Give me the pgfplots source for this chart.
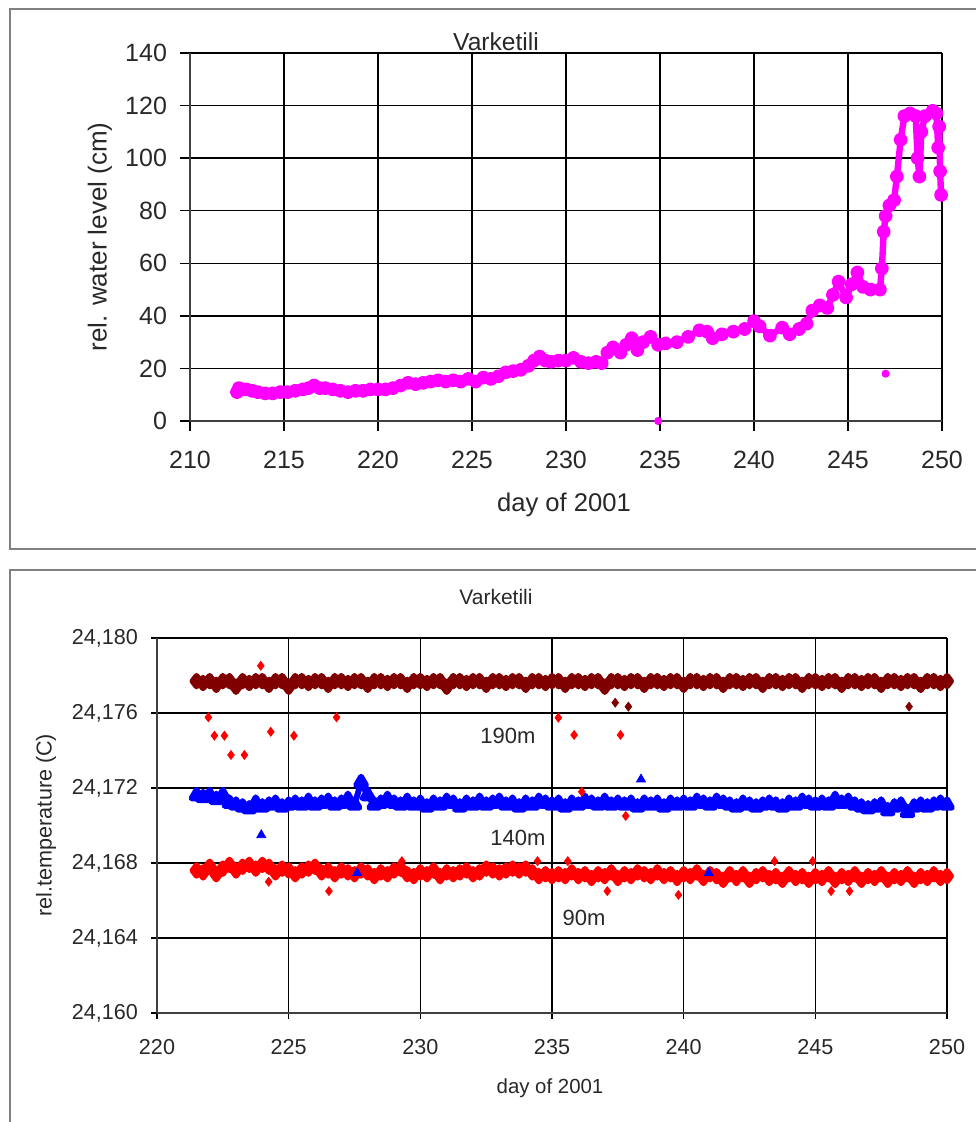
\documentclass[border=0pt]{standalone}
\usepackage{fontspec}
\setmainfont{Liberation Sans}
\usepackage{pgfplots}
\pgfplotsset{compat=1.18}
\usepackage{pgfplotstable}
\definecolor{mag}{RGB}{255,0,255}
\definecolor{dred}{RGB}{128,0,0}
\definecolor{pblue}{RGB}{0,0,255}
\definecolor{pred}{RGB}{255,0,0}
\definecolor{framegray}{RGB}{128,128,128}
\definecolor{txt}{RGB}{40,40,40}

% water level (cm) vs day of 2001
\pgfplotstableread{
day level
212.5 11
212.6 12.5
212.8 12
213.0 12
213.3 11.5
213.6 11
214.0 10.5
214.4 10.5
214.8 11
215.2 11
215.6 11.5
216.0 12
216.3 12.5
216.6 13.5
216.9 12.5
217.2 12.5
217.6 12
218.0 11.5
218.4 11
218.8 11.5
219.2 11.5
219.6 12
220.0 12
220.4 12
220.8 12.5
221.2 13.5
221.6 14.5
222.0 14
222.4 14.5
222.8 15
223.2 15.5
223.6 15
224.0 15.5
224.4 15
224.8 16
225.2 15
225.6 16.5
226.0 16
226.4 17
226.8 18.5
227.2 19
227.6 19.5
228.0 21
228.3 23
228.6 24.5
228.9 23
229.2 22.5
229.6 23
230.0 23
230.4 24
230.8 22.5
231.2 22
231.6 22.5
231.9 22
232.2 26
232.5 28
232.9 26
233.2 29
233.5 31.5
233.8 27
234.1 30
234.5 32
234.9 29
235.3 29.5
235.9 30
236.5 32
237.1 34.5
237.5 34
237.8 31.5
238.3 33
238.9 34
239.5 35
240.0 38
240.3 36
240.85 32.5
241.5 35.5
241.9 33
242.4 35
242.8 37
243.1 42
243.5 44
243.9 43
244.2 48
244.5 53
244.9 47
245.2 52
245.5 56.5
245.8 51
246.2 50
246.7 50
246.8 58
246.9 72
247.0 78
247.2 82
247.45 84
247.6 93
247.8 107
248.0 116
248.3 117
248.6 116
248.7 100
248.8 93
248.9 110
249.1 116
249.5 118
249.7 117
249.8 104
249.85 112
249.9 95
249.95 86
}\levels

\pgfplotstableread{
day level
234.9 0
247.0 18
}\leveloutliers

% temperature, given as (T - 24.160 C) in units of 0.001 C
\pgfplotstableread{
day t190 t140 t90
221.50 17.7 11.6 7.6
221.75 17.6 11.5 7.5
222.00 17.7 11.6 7.8
222.25 17.5 11.4 7.4
222.50 17.7 11.6 7.7
222.75 17.7 11.2 7.9
223.00 17.4 11.1 7.6
223.25 17.7 11.0 7.8
223.50 17.6 10.9 7.9
223.75 17.7 11.2 7.7
224.00 17.7 11.0 7.9
224.25 17.5 11.1 7.8
224.50 17.7 11.2 7.5
224.75 17.7 11.0 7.7
225.00 17.4 11.1 7.6
225.25 17.7 11.2 7.4
225.50 17.7 11.1 7.6
225.75 17.6 11.3 7.7
226.00 17.7 11.1 7.8
226.25 17.7 11.2 7.5
226.50 17.5 11.3 7.6
226.75 17.7 11.1 7.4
227.00 17.7 11.2 7.6
227.25 17.6 11.4 7.5
227.50 17.7 11.1 7.4
227.75 17.7 12.3 7.6
228.00 17.5 11.6 7.5
228.25 17.7 11.1 7.3
228.50 17.7 11.2 7.5
228.75 17.6 11.4 7.4
229.00 17.7 11.2 7.6
229.25 17.7 11.1 7.7
229.50 17.5 11.3 7.4
229.75 17.7 11.1 7.3
230.00 17.7 11.2 7.5
230.25 17.6 11.0 7.4
230.50 17.7 11.2 7.6
230.75 17.7 11.1 7.3
231.00 17.4 11.3 7.5
231.25 17.7 11.2 7.4
231.50 17.7 11.0 7.5
231.75 17.6 11.2 7.6
232.00 17.7 11.1 7.4
232.25 17.7 11.3 7.5
232.50 17.5 11.1 7.7
232.75 17.7 11.2 7.6
233.00 17.7 11.3 7.5
233.25 17.6 11.1 7.6
233.50 17.7 11.2 7.7
233.75 17.7 11.0 7.6
234.00 17.5 11.2 7.7
234.25 17.7 11.1 7.5
234.50 17.7 11.3 7.3
234.75 17.6 11.2 7.4
235.00 17.7 11.1 7.3
235.25 17.7 11.2 7.4
235.50 17.5 11.0 7.3
235.75 17.7 11.2 7.5
236.00 17.7 11.1 7.3
236.25 17.6 11.3 7.4
236.50 17.7 11.2 7.2
236.75 17.7 11.1 7.4
237.00 17.4 11.3 7.3
237.25 17.7 11.1 7.5
237.50 17.7 11.2 7.2
237.75 17.6 11.1 7.4
238.00 17.7 11.2 7.3
238.25 17.7 11.0 7.5
238.50 17.5 11.2 7.4
238.75 17.7 11.1 7.3
239.00 17.7 11.2 7.5
239.25 17.6 11.0 7.3
239.50 17.7 11.2 7.4
239.75 17.7 11.1 7.2
240.00 17.5 11.2 7.4
240.25 17.7 11.1 7.3
240.50 17.7 11.3 7.5
240.75 17.6 11.2 7.2
241.00 17.7 11.1 7.4
241.25 17.7 11.3 7.3
241.50 17.5 11.2 7.1
241.75 17.7 11.1 7.4
242.00 17.7 11.0 7.2
242.25 17.6 11.2 7.4
242.50 17.7 11.1 7.1
242.75 17.7 11.0 7.3
243.00 17.5 11.1 7.4
243.25 17.7 11.2 7.2
243.50 17.7 11.1 7.3
243.75 17.6 11.0 7.1
244.00 17.7 11.2 7.4
244.25 17.7 11.1 7.2
244.50 17.5 11.3 7.3
244.75 17.7 11.2 7.1
245.00 17.7 11.1 7.3
245.25 17.6 11.2 7.2
245.50 17.7 11.1 7.4
245.75 17.7 11.4 7.1
246.00 17.5 11.2 7.3
246.25 17.7 11.3 7.2
246.50 17.7 11.1 7.4
246.75 17.6 11.0 7.1
247.00 17.7 10.9 7.3
247.25 17.7 11.0 7.2
247.50 17.5 11.1 7.4
247.75 17.7 10.8 7.1
248.00 17.7 11.0 7.3
248.25 17.6 11.1 7.2
248.50 17.7 10.7 7.4
248.75 17.7 11.0 7.1
249.00 17.5 11.1 7.3
249.25 17.7 11.0 7.2
249.50 17.7 11.1 7.4
249.75 17.6 11.2 7.2
250.00 17.7 11.1 7.3
}\temps

\pgfplotstableread{
day t
221.95 15.77
222.18 14.79
222.56 14.79
222.81 13.76
223.32 13.76
223.94 18.52
224.32 15.0
225.20 14.79
226.82 15.77
235.24 15.75
235.84 14.83
237.60 14.83
236.13 11.8
237.80 10.51
224.24 7.0
226.53 6.5
229.30 8.1
234.45 8.1
235.60 8.1
237.10 6.5
239.80 6.3
243.45 8.1
244.90 8.1
245.60 6.5
246.30 6.5
}\redout

\pgfplotstableread{
day t
237.40 16.55
237.90 16.34
248.56 16.34
}\dredout

\pgfplotstableread{
day t
223.96 9.49
238.38 12.46
227.60 7.47
240.95 7.47
}\blueout

\begin{document}
\begin{tikzpicture}
\useasboundingbox (0,0) rectangle (487.5pt,-561pt);
\draw[framegray, line width=1pt] (4.75pt,-4.75pt) rectangle (495pt,-274.5pt);
\draw[framegray, line width=1pt] (4.75pt,-285pt) rectangle (495pt,-575pt);

% ---------- top panel ----------
\begin{axis}[
  at={(95pt,-210.5pt)}, anchor=south west,
  scale only axis, width=376pt, height=184pt,
  xmin=210, xmax=250, ymin=0, ymax=140,
  xtick={210,215,...,250}, ytick={0,20,...,140},
  grid=major, major grid style={black, line width=0.7pt},
  axis x line*=bottom, axis y line*=left,
  axis line style={black!75, line width=0.8pt},
  tick style={black, line width=0.7pt},
  tick align=outside, major tick length=5pt,
  ticklabel style={font=\fontsize{12.5}{14}\selectfont, text=txt},
  xticklabel style={yshift=-6.5pt},
  yticklabel style={xshift=-3pt},
  /pgf/number format/assume math mode=true,
  clip=false,
]
\addplot[mag, line width=3.2pt, line join=round, line cap=round,
  mark=*, mark size=1.9pt] table[x=day, y=level] {\levels};
\addplot[mag, only marks, mark=*, mark size=1.8pt] table[x=day, y=level] {\leveloutliers};
\end{axis}
\node[text=txt, font=\fontsize{12.3}{14}\selectfont] at (248pt,-21pt) {Varketili};
\node[text=txt, font=\fontsize{13}{15}\selectfont, rotate=90] at (50pt,-118.5pt) {rel. water level (cm)};
\node[text=txt, font=\fontsize{12.8}{15}\selectfont] at (282pt,-252.5pt) {day of 2001};

% ---------- bottom panel ----------
\begin{axis}[
  at={(78.5pt,-506.5pt)}, anchor=south west,
  scale only axis, width=395pt, height=187.5pt,
  xmin=220, xmax=250, ymin=0, ymax=20,
  xtick={220,225,...,250}, ytick={0,4,...,20},
  yticklabels={{24,160},{24,164},{24,168},{24,172},{24,176},{24,180}},
  grid=major, major grid style={black, line width=0.7pt},
  axis x line*=bottom, axis y line*=left,
  axis line style={black!75, line width=0.8pt},
  tick style={black, line width=0.7pt},
  tick align=outside, major tick length=3pt,
  ticklabel style={font=\fontsize{10.8}{12}\selectfont, text=txt},
  xticklabel style={yshift=-6.5pt},
  yticklabel style={xshift=-3pt},
  /pgf/number format/assume math mode=true,
  clip=false,
]
\addplot[dred, line width=3pt, line join=round,
  mark=diamond*, mark size=2.6pt] table[x=day, y=t190] {\temps};
\addplot[pred, line width=3pt, line join=round,
  mark=diamond*, mark size=2.6pt] table[x=day, y=t90] {\temps};
\addplot[pblue, line width=3pt, line join=round,
  mark=triangle*, mark size=2.8pt] table[x=day, y=t140] {\temps};
\addplot[pred, only marks, mark=diamond*, mark size=2.2pt] table[x=day, y=t] {\redout};
\addplot[dred, only marks, mark=diamond*, mark size=2.2pt] table[x=day, y=t] {\dredout};
\addplot[pblue, only marks, mark=triangle*, mark size=2.6pt] table[x=day, y=t] {\blueout};
\end{axis}
\node[text=txt, font=\fontsize{10.5}{12}\selectfont] at (248pt,-298.5pt) {Varketili};
\node[text=txt, font=\fontsize{10.8}{12}\selectfont, rotate=90] at (23pt,-412.5pt) {rel.temperature (C)};
\node[text=txt, font=\fontsize{10.2}{12}\selectfont] at (275pt,-544pt) {day of 2001};
\node[text=txt, font=\fontsize{11}{12}\selectfont] at (254pt,-368pt) {190m};
\node[text=txt, font=\fontsize{11}{12}\selectfont] at (259pt,-419pt) {140m};
\node[text=txt, font=\fontsize{11}{12}\selectfont] at (292pt,-459pt) {90m};
\end{tikzpicture}
\end{document}
